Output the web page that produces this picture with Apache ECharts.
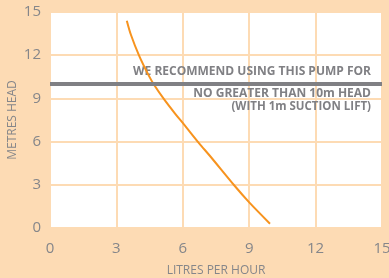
<!DOCTYPE html>
<html>
<head>
<meta charset="utf-8">
<script src="https://cdn.jsdelivr.net/npm/echarts@6/dist/echarts.min.js"></script>
<style>
  html, body { margin: 0; padding: 0; background: #FDDBB4; }
  #main { width: 389px; height: 278px; }
</style>
</head>
<body>
<div id="main"></div>
<script>
  // pump curve: [litres per hour, metres head]
  const curve = [
    [3.47, 14.4], [3.66, 13.4], [4.03, 11.95], [4.44, 10.65], [4.70, 9.95],
    [5.15, 8.95], [5.65, 7.95], [6.05, 7.2], [6.73, 5.9], [7.23, 5.0],
    [8.33, 2.95], [8.99, 1.8], [9.94, 0.3]
  ];
  const recommendHead = 10;
  const xTicks = [0, 3, 6, 9, 12, 15];
  const yTicks = [0, 3, 6, 9, 12, 15];
  const noteLines = ['WE RECOMMEND USING THIS PUMP FOR', 'NO GREATER THAN 10m HEAD', '(WITH 1m SUCTION LIFT)'];

  const peach = '#FDDBB4';
  const grey = '#85868A';
  const font = 'Open Sans';

  const myChart = echarts.init(document.getElementById('main'));

  const option = {
    backgroundColor: peach,
    animation: false,
    grid: {
      left: 50, right: 7, top: 12, bottom: 50,
      outerBoundsMode: 'none',
      show: true,
      backgroundColor: '#ffffff',
      borderWidth: 0
    },
    xAxis: {
      type: 'value',
      min: xTicks[0], max: xTicks[xTicks.length - 1], interval: 3,
      name: 'LITRES PER HOUR',
      nameLocation: 'middle',
      nameGap: 37,
      nameMoveOverlap: false,
      nameTextStyle: { color: grey, fontSize: 12, fontFamily: font },
      axisLine: { show: false },
      axisTick: { show: false },
      axisLabel: { color: grey, fontSize: 15, fontFamily: font, margin: 13 },
      splitLine: { lineStyle: { color: peach, width: 2 } }
    },
    yAxis: {
      type: 'value',
      min: yTicks[0], max: yTicks[yTicks.length - 1], interval: 3,
      name: 'METRES HEAD',
      nameLocation: 'middle',
      nameGap: 31,
      nameMoveOverlap: false,
      nameTextStyle: { color: grey, fontSize: 12, fontFamily: font },
      axisLine: { show: false },
      axisTick: { show: false },
      axisLabel: { color: grey, fontSize: 15, fontFamily: font, margin: 9 },
      splitLine: { lineStyle: { color: peach, width: 2 } }
    },
    graphic: [
      {
        type: 'text', right: 18, top: 66, z: 1,
        style: { text: noteLines[0], fill: '#808084', font: 'bold 12px "Open Sans"', textAlign: 'right' }
      },
      {
        type: 'text', right: 18, top: 88, z: 1,
        style: { text: noteLines[1], fill: '#808084', font: 'bold 12px "Open Sans"', textAlign: 'right' }
      },
      {
        type: 'text', right: 18, top: 101, z: 1,
        style: { text: noteLines[2], fill: '#808084', font: 'bold 11.5px "Open Sans"', textAlign: 'right' }
      }
    ],
    series: [
      {
        type: 'line',
        data: curve,
        smooth: 0.3,
        showSymbol: false,
        lineStyle: { color: '#F7931E', width: 2 },
        markLine: {
          silent: true,
          symbol: 'none',
          label: { show: false },
          lineStyle: { color: '#808084', width: 4, type: 'solid' },
          data: [{ yAxis: recommendHead }]
        },
        z: 3
      }
    ]
  };

  myChart.setOption(option);
</script>
</body>
</html>
